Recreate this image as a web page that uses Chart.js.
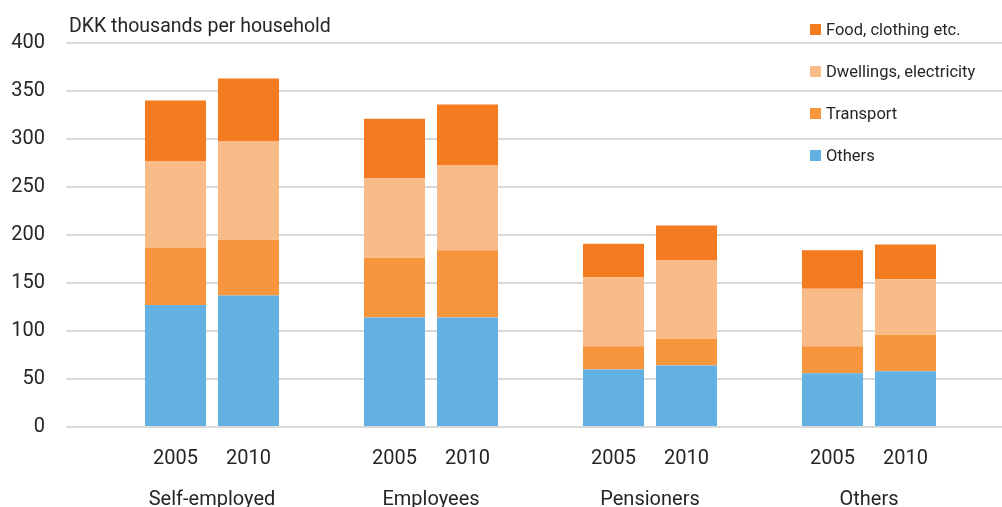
<!DOCTYPE html>
<html>
<head>
<meta charset="utf-8">
<script src="https://cdn.jsdelivr.net/npm/chart.js@4.4.0/dist/chart.umd.min.js"></script>
<style>
	html, body { margin: 0; padding: 0; overflow: hidden; background: #fff; }
	#wrap { position: relative; width: 1015px; height: 507px; }
	#title { position: absolute; left: 69px; top: 14px; font: 19.5px Roboto, sans-serif; color: #262626; }
	#legend { position: absolute; left: 810px; top: 8px; font: 16.5px Roboto, sans-serif; color: #262626; }
	#legend div { height: 42px; display: flex; align-items: center; }
	#legend span { display: inline-block; width: 11px; height: 11px; margin-right: 5px; }
</style>
</head>
<body>
<div id="wrap">
	<canvas id="myChart" width="1015" height="507"></canvas>
	<div id="title">DKK thousands per household</div>
	<div id="legend"></div>
</div>
<script>
	// Data
	const groups = ["Self-employed", "Employees", "Pensioners", "Others"];
	const years = ["2005", "2010"];
	const others = [127, 137, 114, 114, 60, 64, 56, 58];
	const transport = [60, 58, 62, 70, 24, 28, 28, 38];
	const dwellings = [90, 103, 83, 89, 72, 82, 60, 58];
	const food = [63, 65, 62, 63, 35, 36, 40, 36];
	const yTicks = [0, 50, 100, 150, 200, 250, 300, 350, 400];

	const font = "Roboto, sans-serif";

	// an empty slot before each group and after the last one
	const labels = [""];
	groups.forEach(() => labels.push(years[0], years[1], ""));
	function spread(vals) {
		const out = [null];
		groups.forEach((g, i) => out.push(vals[2 * i], vals[2 * i + 1], null));
		return out;
	}

	const series = [
		{ label: "Others", data: others, color: "#63b1e2" },
		{ label: "Transport", data: transport, color: "#f7963d" },
		{ label: "Dwellings, electricity", data: dwellings, color: "#f9bb87" },
		{ label: "Food, clothing etc.", data: food, color: "#f47b20" },
	];

	// Legend, top item first
	const legend = document.getElementById("legend");
	series.slice().reverse().forEach((s) => {
		const row = document.createElement("div");
		row.innerHTML = '<span style="background:' + s.color + '"></span>' + s.label;
		legend.appendChild(row);
	});

	// Group names under the year labels
	const groupLabels = {
		id: "groupLabels",
		afterDraw(chart) {
			const ctx = chart.ctx;
			const x = chart.scales.x;
			ctx.save();
			ctx.font = "20px " + font;
			ctx.fillStyle = "#262626";
			ctx.textAlign = "center";
			ctx.textBaseline = "middle";
			groups.forEach((g, i) => {
				const px = (x.getPixelForValue(3 * i + 1) + x.getPixelForValue(3 * i + 2)) / 2;
				ctx.fillText(g, px, x.bottom - 7);
			});
			ctx.restore();
		},
	};

	new Chart(document.getElementById("myChart"), {
		type: "bar",
		data: {
			labels: labels,
			datasets: series.map((s) => ({
				label: s.label,
				data: spread(s.data),
				backgroundColor: s.color,
				borderWidth: 0,
				categoryPercentage: 1,
				barPercentage: 0.836,
			})),
		},
		options: {
			responsive: false,
			animation: false,
			layout: { padding: { top: 43, left: 0, right: 0, bottom: 0 } },
			plugins: {
				legend: { display: false },
				tooltip: { enabled: false },
			},
			scales: {
				x: {
					stacked: true,
					grid: { display: false },
					border: { display: false },
					ticks: { color: "#262626", font: { family: font, size: 20 }, padding: 12, maxRotation: 0, autoSkip: false },
					afterFit: (scale) => { scale.height = 80; },
				},
				y: {
					stacked: true,
					min: 0,
					max: 400,
					afterBuildTicks: (scale) => { scale.ticks = yTicks.map((v) => ({ value: v })); },
					grid: { color: "#d9d9d9", lineWidth: 2, drawTicks: false },
					border: { display: false },
					ticks: { color: "#262626", font: { family: font, size: 20 }, padding: 21 },
					afterFit: (scale) => { scale.width = 66; },
				},
			},
		},
		plugins: [groupLabels],
	});
</script>
</body>
</html>
